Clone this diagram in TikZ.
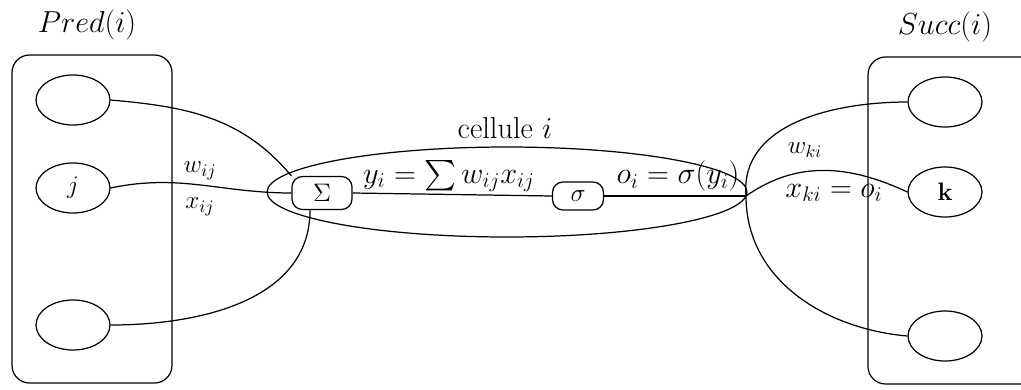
\documentclass[tikz,border=0pt]{standalone}
\usepackage{amsmath, amssymb}
\usetikzlibrary{shapes.geometric, positioning, calc}

\begin{document}
\begin{tikzpicture}[
    x=0.02cm, y=-0.02cm,
    line width=0.7pt,
    % Estilo para las neuronas (elipses)
    neuron/.style={
        draw,
        ellipse,
        minimum width=1.48cm,
        minimum height=1.0cm,
        inner sep=0pt,
        font=\Large
    },
    % Estilo para las cajas de operacion
    opbox/.style={
        draw,
        rounded corners=6pt,
        fill=white,
        inner sep=0pt,
        font=\Large
    },
    % Estilo para los grupos (Pred / Succ)
    groupbox/.style={
        draw,
        rounded corners=10pt
    },
    lbl/.style={font=\Large},
    eqlbl/.style={font=\LARGE}
]
    \clip (0,0) rectangle (1021,389);

    % ==========================================
    % PRED(i) (BLOQUE IZQUIERDO)
    % ==========================================
    \draw[groupbox] (12,55) rectangle (172,383);
    \node[eqlbl] (predlbl) at (87,25) {$Pred(i)$};
    \node[neuron] (p1) at (73,100) {};
    \node[neuron] (pj) at (73,188) {$j$};
    \node[neuron] (p3) at (73,325) {};

    % ==========================================
    % CELLULE i (BLOQUE CENTRAL)
    % ==========================================
    \node[draw, ellipse, minimum width=9.6cm, minimum height=1.8cm, inner sep=0pt] (cell) at (507,192) {};
    \node[eqlbl] (celllbl) at (505,128) {cellule $i$};
    \node[opbox, minimum width=1.2cm, minimum height=0.66cm] (sum) at (322,193) {$\Sigma$};
    \node[opbox, minimum width=1.02cm, minimum height=0.56cm] (sig) at (578,196) {$\sigma$};
    \coordinate (out) at (746,196);

    \draw (sum.east) -- (sig.west);
    \draw (sig.east) -- (out);
    \node[eqlbl] (ylbl) at (449,176) {$y_i = \sum w_{ij}x_{ij}$};
    \node[eqlbl] (olbl) at (678,176) {$o_i = \sigma(y_i)$};

    % Entradas
    \draw (p1.east) to[out=-5, in=130] (sum.north west);
    \draw (pj.east) to[out=12, in=180] (sum.west);
    \draw (p3.east) to[out=0, in=-90] (sum.235);
    \node[lbl] (wij) at (200,171) {$w_{ij}$};
    \node[lbl] (xij) at (200,207) {$x_{ij}$};

    % ==========================================
    % SUCC(i) (BLOQUE DERECHO)
    % ==========================================
    \draw[groupbox] (868,57) rectangle (1060,384);
    \node[eqlbl] (succlbl) at (945,27) {$Succ(i)$};
    \node[neuron] (s1) at (945,102) {};
    \node[neuron] (sk) at (945,192) {$\mathbf{k}$};
    \node[neuron] (s3) at (945,336) {};

    % Salidas
    \draw (out) to[out=95, in=180] (s1.west);
    \draw (out) to[out=35, in=155] (sk.west);
    \draw (out) to[out=-90, in=175] (s3.west);
    \node[lbl] (wki) at (805,150) {$w_{ki}$};
    \node[eqlbl] (xki) at (834,193) {$x_{ki} = o_i$};

\end{tikzpicture}
\end{document}
